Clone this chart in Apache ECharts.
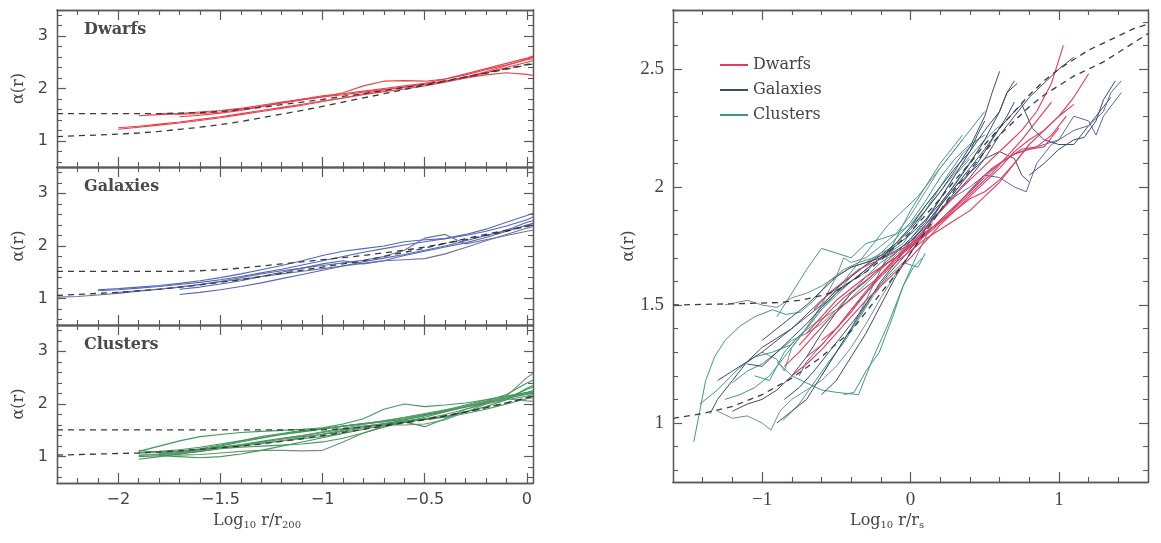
<!DOCTYPE html>
<html><head><meta charset="utf-8">
<script src="https://cdn.jsdelivr.net/npm/echarts@6/dist/echarts.min.js"></script>
<style>html,body{margin:0;padding:0;background:#fff}#c{width:1161px;height:543px}</style>
</head><body><div id="c"></div>
<script>
const _ = null;
// ---------- left panels: shared x grid (log10 r/r200) ----------
const xL = [-2.3,-2.2,-2.1,-2.0,-1.9,-1.8,-1.7,-1.6,-1.5,-1.4,-1.3,-1.2,-1.1,-1.0,-0.9,-0.8,-0.7,-0.6,-0.5,-0.4,-0.3,-0.2,-0.1,0.0,0.03];
const leftMajorX = [-2,-1.5,-1,-0.5,0];
const leftMinorX = [-2.2,-2.1,-1.9,-1.8,-1.7,-1.6,-1.4,-1.3,-1.2,-1.1,-0.9,-0.8,-0.7,-0.6,-0.4,-0.3,-0.2,-0.1];
const leftMajorY = [1,2,3];
const leftMinorY = [0.6,0.8,1.2,1.4,1.6,1.8,2.2,2.4,2.6,2.8,3.2,3.4];

// Dwarfs (left)
const dw1 = [_,_,_,1.25,1.28,1.32,1.36,1.41,1.46,1.52,1.58,1.64,1.70,1.76,1.82,1.88,1.94,1.99,2.05,2.12,2.20,2.30,2.40,2.50,2.53];
const dw2 = [_,_,_,1.22,1.26,1.30,1.34,1.39,1.44,1.50,1.56,1.62,1.68,1.75,1.82,1.90,1.97,2.03,2.08,2.14,2.22,2.32,2.44,2.56,2.60];
const dw3 = [_,_,_,_,_,1.52,1.51,1.52,1.55,1.60,1.66,1.72,1.78,1.84,1.92,2.05,2.14,2.15,2.14,2.18,2.26,2.36,2.45,2.55,2.57];
const dw4 = [_,_,_,_,1.48,1.50,1.52,1.55,1.58,1.62,1.68,1.74,1.79,1.84,1.88,1.93,1.98,2.02,2.08,2.14,2.20,2.26,2.30,2.27,2.25];
const dw5 = [_,_,_,_,_,_,1.46,1.49,1.53,1.58,1.65,1.73,1.80,1.86,1.90,1.95,2.00,2.05,2.10,2.18,2.28,2.38,2.48,2.58,2.62];
const dwFitA = [1.52,1.52,1.52,1.52,1.52,1.52,1.53,1.54,1.56,1.60,1.64,1.69,1.74,1.79,1.85,1.90,1.96,2.02,2.08,2.15,2.22,2.29,2.37,2.45,2.47];
const dwFitB = [1.08,1.10,1.11,1.13,1.15,1.18,1.22,1.26,1.31,1.37,1.44,1.51,1.58,1.66,1.74,1.82,1.90,1.98,2.06,2.14,2.22,2.30,2.38,2.46,2.48];

// Galaxies (left)
const ga1 = [1.03,1.04,1.07,1.10,1.14,1.18,1.22,1.27,1.32,1.37,1.42,1.47,1.52,1.57,1.62,1.67,1.72,1.74,1.76,1.85,1.97,2.10,2.22,2.34,2.37];
const ga2 = [_,_,1.15,1.17,1.20,1.23,1.27,1.31,1.36,1.42,1.49,1.56,1.64,1.72,1.80,1.88,1.95,2.02,2.08,2.14,2.20,2.28,2.38,2.50,2.55];
const ga3 = [_,_,1.17,1.19,1.22,1.25,1.29,1.34,1.40,1.47,1.55,1.63,1.72,1.82,1.90,1.95,2.00,2.08,2.12,2.14,2.22,2.32,2.45,2.58,2.62];
const ga4 = [_,_,_,1.12,1.15,1.18,1.22,1.27,1.33,1.40,1.47,1.53,1.58,1.63,1.68,1.73,1.80,1.92,2.15,2.22,2.04,2.12,2.20,2.28,2.30];
const ga5 = [_,_,_,_,_,_,1.18,1.22,1.28,1.34,1.42,1.50,1.58,1.66,1.72,1.66,1.72,1.82,1.90,1.98,2.06,2.16,2.28,2.40,2.43];
const ga6 = [_,_,_,_,_,_,1.08,1.12,1.17,1.23,1.30,1.38,1.46,1.54,1.62,1.70,1.77,1.84,1.92,2.00,2.10,2.20,2.30,2.45,2.48];
const gaFitA = [1.52,1.52,1.52,1.52,1.52,1.52,1.52,1.53,1.55,1.58,1.62,1.66,1.70,1.74,1.78,1.82,1.87,1.92,1.98,2.05,2.12,2.20,2.28,2.38,2.40];
const gaFitB = [1.06,1.08,1.10,1.12,1.15,1.18,1.22,1.26,1.31,1.36,1.42,1.48,1.54,1.60,1.66,1.72,1.80,1.88,1.96,2.05,2.14,2.22,2.30,2.38,2.40];

// Clusters (left)
const cl1 = [_,_,_,_,1.08,1.10,1.13,1.18,1.24,1.30,1.36,1.42,1.47,1.52,1.58,1.63,1.68,1.74,1.80,1.87,1.95,2.03,2.12,2.22,2.25];
const cl2 = [_,_,_,_,1.12,1.08,1.06,1.10,1.16,1.22,1.28,1.33,1.38,1.42,1.48,1.55,1.62,1.70,1.78,1.86,1.94,2.02,2.10,2.20,2.22];
const cl3 = [_,_,_,_,0.95,1.00,1.05,1.12,1.20,1.28,1.35,1.42,1.48,1.53,1.58,1.62,1.66,1.72,1.80,1.88,1.95,2.05,2.18,2.40,2.45];
const cl4 = [_,_,_,_,1.05,1.04,1.03,1.04,1.07,1.10,1.12,1.12,1.11,1.12,1.28,1.45,1.58,1.65,1.72,1.80,1.90,2.00,2.08,2.15,2.18];
const cl5 = [_,_,_,_,1.10,1.20,1.30,1.38,1.42,1.46,1.48,1.50,1.52,1.55,1.62,1.72,1.90,2.00,1.95,1.98,2.02,2.08,2.15,2.22,2.25];
const cl6 = [_,_,_,_,_,1.05,1.08,1.12,1.16,1.20,1.25,1.30,1.36,1.43,1.50,1.57,1.63,1.68,1.72,1.76,1.85,1.95,2.08,2.30,2.35];
const cl7 = [_,_,_,_,_,1.02,1.00,0.98,1.00,1.05,1.12,1.20,1.28,1.36,1.44,1.52,1.60,1.66,1.70,1.75,1.82,1.90,2.00,2.10,2.12];
const cl8 = [_,_,_,_,1.07,1.09,1.11,1.14,1.18,1.22,1.26,1.30,1.34,1.38,1.45,1.52,1.60,1.60,1.62,1.70,1.85,2.00,2.15,2.50,2.58];
const cl9 = [_,_,_,_,_,_,1.10,1.15,1.22,1.30,1.38,1.44,1.50,1.54,1.58,1.63,1.67,1.70,1.78,1.88,1.98,2.08,2.15,2.20,2.22];
const cl10 = [_,_,_,_,1.00,1.02,1.05,1.10,1.15,1.18,1.20,1.22,1.24,1.28,1.35,1.45,1.56,1.66,1.75,1.85,1.96,2.05,2.12,2.18,2.20];
const cl11 = [_,_,_,_,_,1.06,1.10,1.14,1.18,1.23,1.29,1.35,1.40,1.46,1.52,1.58,1.62,1.66,1.57,1.72,1.90,2.02,2.10,2.28,2.32];
const cl12 = [_,_,_,_,1.02,1.05,1.08,1.12,1.16,1.21,1.27,1.34,1.40,1.47,1.54,1.61,1.68,1.75,1.82,1.89,1.96,2.04,2.10,2.06,2.05];
const clFitA = [1.51,1.51,1.51,1.51,1.51,1.51,1.51,1.51,1.51,1.51,1.51,1.51,1.51,1.51,1.53,1.56,1.60,1.65,1.71,1.78,1.85,1.93,2.02,2.12,2.15];
const clFitB = [1.03,1.04,1.05,1.06,1.07,1.09,1.11,1.14,1.17,1.20,1.24,1.29,1.34,1.40,1.46,1.52,1.58,1.64,1.70,1.77,1.85,1.93,2.02,2.12,2.15];

// ---------- right panel (log10 r/rs) ----------
const rightMajorX = [-1,0,1];
const rightMinorX = [-1.4,-1.2,-0.8,-0.6,-0.4,-0.2,0.2,0.4,0.6,0.8,1.2,1.4];
const rightMajorY = [1,1.5,2,2.5];
const rightMinorY = [0.8,0.9,1.1,1.2,1.3,1.4,1.6,1.7,1.8,1.9,2.1,2.2,2.3,2.4,2.6,2.7];

const rDwarfs = [
 [[-0.85,1.24],[-0.75,1.30],[-0.65,1.37],[-0.55,1.44],[-0.45,1.50],[-0.35,1.55],[-0.25,1.60],[-0.15,1.66],[-0.05,1.72],[0.05,1.79],[0.15,1.86],[0.25,1.93],[0.35,2.00],[0.45,2.06],[0.55,2.12],[0.65,2.18],[0.75,2.24],[0.85,2.32],[0.95,2.44],[1.03,2.60]],
 [[-0.8,1.20],[-0.7,1.25],[-0.6,1.31],[-0.5,1.38],[-0.4,1.45],[-0.3,1.52],[-0.2,1.58],[-0.1,1.64],[0.0,1.70],[0.1,1.77],[0.2,1.84],[0.3,1.90],[0.4,1.96],[0.5,2.02],[0.6,2.08],[0.7,2.15],[0.8,2.20],[0.9,2.24],[1.0,2.30],[1.1,2.38],[1.2,2.48]],
 [[-0.75,1.33],[-0.65,1.40],[-0.55,1.47],[-0.45,1.53],[-0.35,1.58],[-0.25,1.63],[-0.15,1.68],[-0.05,1.72],[0.05,1.77],[0.15,1.82],[0.25,1.88],[0.35,1.95],[0.45,2.02],[0.55,2.08],[0.65,2.12],[0.75,2.16],[0.85,2.17],[0.95,2.22],[1.05,2.30]],
 [[-0.7,1.38],[-0.6,1.45],[-0.5,1.52],[-0.4,1.57],[-0.3,1.62],[-0.2,1.66],[-0.1,1.70],[0.0,1.75],[0.1,1.80],[0.2,1.86],[0.3,1.92],[0.4,1.98],[0.5,2.05],[0.6,2.10],[0.7,2.14],[0.8,2.16],[0.9,2.17],[1.0,2.25]],
 [[-0.65,1.48],[-0.55,1.55],[-0.45,1.60],[-0.35,1.65],[-0.25,1.68],[-0.15,1.71],[-0.05,1.74],[0.05,1.78],[0.15,1.83],[0.25,1.88],[0.35,1.94],[0.45,2.00],[0.55,2.06],[0.65,2.13],[0.75,2.20],[0.85,2.28],[0.95,2.36]],
 [[-0.6,1.35],[-0.5,1.40],[-0.4,1.48],[-0.3,1.55],[-0.2,1.62],[-0.1,1.68],[0.0,1.73],[0.1,1.78],[0.2,1.82],[0.3,1.86],[0.4,1.90],[0.5,1.96],[0.6,2.02],[0.7,2.10],[0.8,2.18]],
 [[-0.7,1.28],[-0.6,1.33],[-0.5,1.40],[-0.4,1.47],[-0.3,1.55],[-0.2,1.63],[-0.1,1.70],[0.0,1.76],[0.1,1.81],[0.2,1.85],[0.3,1.90],[0.4,1.95],[0.5,1.98],[0.6,2.03],[0.7,2.10],[0.8,2.18],[0.9,2.24],[1.0,2.30],[1.1,2.35]]
];
const rGalaxies = [
 [[-1.3,1.18],[-1.2,1.22],[-1.1,1.26],[-1.0,1.30],[-0.9,1.35],[-0.8,1.40],[-0.7,1.46],[-0.6,1.52],[-0.5,1.57],[-0.4,1.62],[-0.3,1.67],[-0.2,1.71],[-0.1,1.76],[0.0,1.82],[0.1,1.90],[0.2,1.98],[0.3,2.07],[0.4,2.17],[0.5,2.30],[0.55,2.40],[0.6,2.49]],
 [[-1.1,1.25],[-1.0,1.24],[-0.9,1.30],[-0.8,1.36],[-0.7,1.42],[-0.6,1.49],[-0.5,1.55],[-0.4,1.60],[-0.3,1.65],[-0.2,1.70],[-0.1,1.76],[0.0,1.83],[0.1,1.92],[0.2,2.00],[0.3,2.08],[0.4,2.15],[0.5,2.24],[0.6,2.32],[0.65,2.40],[0.72,2.44]],
 [[-0.9,1.00],[-0.8,1.05],[-0.7,1.10],[-0.6,1.20],[-0.5,1.30],[-0.4,1.40],[-0.3,1.50],[-0.2,1.60],[-0.1,1.68],[0.0,1.76],[0.1,1.84],[0.2,1.92],[0.3,2.00],[0.4,2.08],[0.5,2.16],[0.6,2.25],[0.7,2.32],[0.75,2.35],[0.82,2.25],[0.9,2.20],[1.0,2.18],[1.1,2.18],[1.2,2.26],[1.3,2.34],[1.35,2.38]],
 [[-0.75,1.20],[-0.7,1.26],[-0.6,1.33],[-0.5,1.40],[-0.4,1.48],[-0.3,1.56],[-0.2,1.63],[-0.1,1.70],[0.0,1.77],[0.1,1.84],[0.2,1.90],[0.3,1.96],[0.4,2.00],[0.5,2.05],[0.6,2.04],[0.7,2.00],[0.78,1.98],[0.85,2.10],[0.95,2.18],[1.0,2.20],[1.1,2.30],[1.2,2.28],[1.25,2.22],[1.3,2.30],[1.42,2.40]],
 [[-1.35,1.04],[-1.3,1.10],[-1.2,1.18],[-1.1,1.26],[-1.0,1.32],[-0.9,1.36],[-0.8,1.40],[-0.7,1.45],[-0.6,1.50],[-0.5,1.56],[-0.4,1.60],[-0.3,1.65],[-0.2,1.70],[-0.1,1.75],[0.0,1.80],[0.1,1.86],[0.2,1.93],[0.3,2.01],[0.4,2.10],[0.5,2.20],[0.6,2.32],[0.65,2.40],[0.7,2.45]],
 [[-1.2,1.05],[-1.1,1.08],[-1.0,1.10],[-0.9,1.14],[-0.8,1.20],[-0.7,1.28],[-0.6,1.38],[-0.5,1.47],[-0.4,1.55],[-0.3,1.60],[-0.2,1.66],[-0.1,1.72],[0.0,1.78],[0.1,1.85],[0.2,1.95],[0.3,2.05],[0.4,2.15],[0.45,2.22],[0.5,2.28]],
 [[-0.6,1.12],[-0.5,1.18],[-0.4,1.28],[-0.3,1.38],[-0.2,1.50],[-0.1,1.62],[0.0,1.72],[0.1,1.82],[0.2,1.92],[0.3,2.00],[0.4,2.06],[0.5,2.12],[0.6,2.15],[0.7,2.12],[0.75,2.05],[0.8,2.02]],
 [[0.0,1.74],[0.1,1.80],[0.2,1.86],[0.3,1.92],[0.4,1.98],[0.5,2.04],[0.6,2.10],[0.7,2.14],[0.8,2.16],[0.9,2.18],[1.0,2.20],[1.1,2.24],[1.2,2.26],[1.3,2.32],[1.35,2.40],[1.42,2.45]],
 [[-0.85,1.10],[-0.75,1.15],[-0.65,1.22],[-0.55,1.30],[-0.45,1.38],[-0.35,1.46],[-0.25,1.55],[-0.15,1.63],[-0.05,1.70],[0.05,1.78],[0.15,1.86],[0.25,1.94],[0.35,2.02],[0.45,2.10],[0.55,2.20],[0.65,2.30],[0.7,2.36]],
 [[-1.0,1.35],[-0.9,1.40],[-0.8,1.45],[-0.7,1.50],[-0.6,1.56],[-0.5,1.62],[-0.4,1.66],[-0.3,1.68],[-0.2,1.70],[-0.1,1.73],[0.0,1.77],[0.1,1.83],[0.2,1.90],[0.3,1.97],[0.4,2.04],[0.5,2.12],[0.6,2.22],[0.7,2.30],[0.8,2.38],[0.9,2.44],[1.0,2.50],[1.1,2.55]],
 [[0.8,2.05],[0.9,2.10],[1.0,2.16],[1.1,2.20],[1.17,2.21],[1.25,2.28],[1.3,2.37],[1.38,2.45]]
];
const rClusters = [
 [[-1.46,0.92],[-1.42,1.05],[-1.38,1.18],[-1.32,1.28],[-1.25,1.35],[-1.15,1.41],[-1.05,1.45],[-0.93,1.48],[-0.84,1.46],[-0.74,1.47],[-0.65,1.52],[-0.55,1.60],[-0.45,1.65],[-0.35,1.68],[-0.25,1.70],[-0.15,1.72],[-0.05,1.76],[0.05,1.85],[0.15,1.95],[0.25,2.05],[0.35,2.14],[0.45,2.20]],
 [[-1.42,1.08],[-1.3,1.14],[-1.16,1.23],[-1.05,1.28],[-0.93,1.30],[-0.81,1.33],[-0.7,1.40],[-0.6,1.48],[-0.5,1.55],[-0.4,1.62],[-0.3,1.67],[-0.2,1.72],[-0.1,1.78],[0.0,1.85],[0.1,1.94],[0.2,2.04],[0.3,2.12],[0.4,2.18],[0.5,2.22]],
 [[-1.3,1.05],[-1.2,1.02],[-1.1,1.03],[-1.0,1.00],[-0.94,0.97],[-0.88,1.05],[-0.8,1.10],[-0.7,1.14],[-0.6,1.18],[-0.5,1.24],[-0.4,1.32],[-0.3,1.42],[-0.2,1.53],[-0.1,1.63],[0.0,1.72],[0.1,1.80]],
 [[-0.9,1.26],[-0.8,1.20],[-0.7,1.17],[-0.6,1.14],[-0.5,1.13],[-0.35,1.12],[-0.25,1.28],[-0.15,1.42],[-0.05,1.58],[0.05,1.72],[0.15,1.85]],
 [[-1.25,1.10],[-1.15,1.12],[-1.05,1.15],[-0.95,1.20],[-0.85,1.28],[-0.75,1.36],[-0.65,1.45],[-0.55,1.53],[-0.45,1.60],[-0.35,1.68],[-0.25,1.76],[-0.15,1.84],[-0.05,1.90],[0.05,1.96],[0.15,2.04],[0.25,2.12],[0.35,2.20],[0.45,2.28],[0.5,2.32]],
 [[-1.0,1.30],[-0.9,1.27],[-0.85,1.22],[-0.8,1.32],[-0.7,1.40],[-0.6,1.50],[-0.5,1.62],[-0.45,1.70],[-0.4,1.68],[-0.3,1.70],[-0.2,1.75],[-0.1,1.80],[0.0,1.88],[0.1,1.98],[0.2,2.08],[0.3,2.16],[0.35,2.20]],
 [[-0.9,1.45],[-0.8,1.55],[-0.7,1.65],[-0.6,1.74],[-0.5,1.72],[-0.4,1.70],[-0.3,1.76],[-0.2,1.78],[-0.1,1.80],[0.0,1.84],[0.1,1.92],[0.2,2.00]],
 [[-0.6,1.20],[-0.5,1.30],[-0.4,1.40],[-0.3,1.52],[-0.2,1.65],[-0.1,1.78],[0.0,1.90],[0.1,2.00],[0.2,2.10],[0.3,2.18],[0.35,2.22]],
 [[-1.25,1.50],[-1.1,1.52],[-1.0,1.50],[-0.9,1.49],[-0.8,1.53],[-0.7,1.55],[-0.6,1.58],[-0.5,1.62],[-0.4,1.66],[-0.3,1.68],[-0.2,1.72],[-0.1,1.75]],
 [[-1.2,1.17],[-1.1,1.22],[-1.0,1.25],[-0.9,1.30],[-0.8,1.35],[-0.7,1.38],[-0.6,1.42],[-0.5,1.48],[-0.4,1.55],[-0.3,1.62],[-0.2,1.68],[-0.1,1.72],[0.0,1.78],[0.1,1.86],[0.2,1.95],[0.3,2.05],[0.4,2.12]],
 [[-1.05,1.20],[-0.95,1.18],[-0.85,1.30],[-0.75,1.37],[-0.65,1.42],[-0.55,1.46],[-0.45,1.50],[-0.35,1.56],[-0.25,1.62],[-0.15,1.68],[-0.05,1.74],[0.05,1.80],[0.15,1.88],[0.25,1.97],[0.35,2.06],[0.45,2.15],[0.5,2.20]],
 [[-0.8,1.32],[-0.7,1.40],[-0.6,1.48],[-0.5,1.54],[-0.4,1.60],[-0.3,1.64],[-0.2,1.70],[-0.1,1.76],[0.0,1.83],[0.1,1.90],[0.2,1.98],[0.3,2.06],[0.4,2.13],[0.5,2.20],[0.6,2.26]],
 [[-0.86,1.01],[-0.75,1.08],[-0.64,1.18],[-0.55,1.26],[-0.45,1.34],[-0.35,1.44],[-0.25,1.54],[-0.15,1.62],[-0.05,1.68],[0.05,1.66],[0.1,1.72]],
 [[-0.45,1.12],[-0.38,1.13],[-0.3,1.22],[-0.21,1.30],[-0.12,1.45],[-0.05,1.58],[0.02,1.66],[0.08,1.70]]
];
const rFitA = [[-1.6,1.50],[-1.2,1.505],[-0.9,1.51],[-0.74,1.52],[-0.6,1.54],[-0.5,1.56],[-0.4,1.60],[-0.3,1.64],[-0.2,1.69],[-0.1,1.75],[0.0,1.81],[0.1,1.88],[0.2,1.95],[0.3,2.03],[0.4,2.10],[0.5,2.18],[0.6,2.25],[0.7,2.32],[0.8,2.39],[0.9,2.45],[1.0,2.50],[1.1,2.54],[1.2,2.58],[1.3,2.61],[1.4,2.64],[1.5,2.67],[1.6,2.69]];
const rFitB = [[-1.6,1.02],[-1.4,1.04],[-1.2,1.07],[-1.0,1.12],[-0.8,1.19],[-0.6,1.28],[-0.4,1.39],[-0.2,1.55],[-0.1,1.63],[0.0,1.72],[0.1,1.81],[0.2,1.90],[0.3,1.99],[0.4,2.07],[0.5,2.15],[0.6,2.22],[0.7,2.28],[0.8,2.34],[0.9,2.39],[1.0,2.43],[1.1,2.47],[1.2,2.50],[1.3,2.53],[1.4,2.57],[1.5,2.61],[1.6,2.65]];

const panelNames = ['Dwarfs','Galaxies','Clusters'];

// ---------- build ----------
const AX = '#5a5a5a';
const pairs = (xs, ys) => xs.map((x,i)=>[x, ys[i]]).filter(p=>p[1]!==null);
const minus = v => String(v).replace('-', '\u2212');

const grids = [
  {left:57, top:10, width:476, height:157},
  {left:57, top:167, width:476, height:158},
  {left:57, top:325, width:476, height:158},
  {left:673, top:10, width:475, height:472}
];
const xAxes = [], yAxes = [];
const mainX = [], mainY = [];
function addFrame(gi, xr, yr, xMaj, xMin, yMaj, yMin, xLab, yName, labFont, labSize, yNameGap, majLen, minLen) {
  const line = {show:true, onZero:false, lineStyle:{color:AX, width:1.3}};
  const bx = {gridIndex:gi, type:'value', min:xr[0], max:xr[1], splitLine:{show:false}, axisLine:line};
  const by = {gridIndex:gi, type:'value', min:yr[0], max:yr[1], splitLine:{show:false}, axisLine:line};
  const lab = (show, vals) => ({show, customValues:vals, color:'#444', fontFamily:labFont, fontSize:labSize, margin:9, formatter:minus});
  mainX[gi] = xAxes.length;
  xAxes.push({...bx, position:'bottom', axisTick:{inside:true, length:majLen, customValues:xMaj, lineStyle:{color:AX, width:1.2}}, axisLabel:lab(xLab, xMaj)});
  xAxes.push({...bx, position:'bottom', axisTick:{inside:true, length:minLen, customValues:xMin, lineStyle:{color:AX, width:1.1}}, axisLabel:{show:false}});
  xAxes.push({...bx, position:'top', axisTick:{inside:true, length:majLen, customValues:xMaj, lineStyle:{color:AX, width:1.2}}, axisLabel:{show:false}});
  xAxes.push({...bx, position:'top', axisTick:{inside:true, length:minLen, customValues:xMin, lineStyle:{color:AX, width:1.1}}, axisLabel:{show:false}});
  mainY[gi] = yAxes.length;
  yAxes.push({...by, position:'left', axisTick:{inside:true, length:majLen-1, customValues:yMaj, lineStyle:{color:AX, width:1.2}}, axisLabel:lab(true, yMaj),
    name:yName, nameLocation:'middle', nameRotate:90, nameGap:yNameGap, nameTextStyle:{fontFamily:'DejaVu Serif', fontSize:16, color:'#444'}});
  yAxes.push({...by, position:'left', axisTick:{inside:true, length:minLen, customValues:yMin, lineStyle:{color:AX, width:1.1}}, axisLabel:{show:false}});
  yAxes.push({...by, position:'right', axisTick:{inside:true, length:majLen-1, customValues:yMaj, lineStyle:{color:AX, width:1.2}}, axisLabel:{show:false}});
  yAxes.push({...by, position:'right', axisTick:{inside:true, length:minLen, customValues:yMin, lineStyle:{color:AX, width:1.1}}, axisLabel:{show:false}});
}
for (let g = 0; g < 3; g++) {
  addFrame(g, [-2.3, 0.03], [0.5, 3.5], leftMajorX, leftMinorX, leftMajorY, leftMinorY, g === 2, '\u03b1(r)', 'DejaVu Sans', 16, 30, 10, 5);
}
addFrame(3, [-1.6, 1.6], [0.75, 2.75], rightMajorX, rightMinorX, rightMajorY, rightMinorY, true, '\u03b1(r)', 'Liberation Serif', 19, 36, 10, 5);

const series = [];
function addLine(gi, name, data, color, width, dashed) {
  series.push({type:'line', name, xAxisIndex:mainX[gi], yAxisIndex:mainY[gi], data, showSymbol:false, symbol:'none',
    silent:true, clip:true, animation:false,
    itemStyle:{color}, lineStyle:{color, width, type: dashed ? [6,5] : 'solid'}});
}
const leftSets = [
  {lines:[dw1,dw2,dw3,dw4,dw5], color:'#e8424c', fits:[dwFitA, dwFitB]},
  {lines:[ga1,ga2,ga3,ga4,ga5,ga6], color:'#5367bd', fits:[gaFitA, gaFitB]},
  {lines:[cl1,cl2,cl3,cl4,cl5,cl6,cl7,cl8,cl9,cl10,cl11,cl12], color:'#3f9b58', fits:[clFitA, clFitB]}
];
leftSets.forEach((s, g) => {
  s.lines.forEach((ys, i) => addLine(g, panelNames[g] + ' r200', pairs(xL, ys), (g===1 && i%3===0) ? '#6a74a0' : (g===2 && i%4===3 ? '#6f8f78' : s.color), 1.1, false));
  s.fits.forEach(ys => addLine(g, 'fit', pairs(xL, ys), '#3a3a3a', 1.3, true));
});
rClusters.forEach((d, i) => addLine(3, 'Clusters', d, i % 3 === 2 ? '#6f9488' : '#3f9a84', 1.0, false));
rGalaxies.forEach((d, i) => addLine(3, 'Galaxies', d, i % 4 === 3 ? '#5866a6' : '#3b4a72', 1.0, false));
rDwarfs.forEach(d => addLine(3, 'Dwarfs', d, '#e23c5e', 1.1, false));
addLine(3, 'fit', rFitA, '#3a3a4a', 1.3, true);
addLine(3, 'fit', rFitB, '#3a3a4a', 1.3, true);

const titles = panelNames.map((t, g) => ({text:t, left:79, top:grids[g].top + 7,
  textStyle:{fontFamily:'DejaVu Serif', fontSize:16, fontWeight:'bold', color:'#4a4a4a'}}));

const subRich = {s:{fontSize:10, fontFamily:'DejaVu Serif', fill:'#444', verticalAlign:'bottom', padding:[9,0,0,0]}};
const option = {
  animation:false,
  grid: grids,
  xAxis: xAxes,
  yAxis: yAxes,
  title: titles,
  legend: {data:['Dwarfs','Galaxies','Clusters'], orient:'vertical', left:715, top:52, itemWidth:28, itemHeight:2, itemGap:9,
    icon:'rect', selectedMode:false, textStyle:{fontFamily:'DejaVu Serif', fontSize:16, color:'#444'}},
  graphic: [
    {type:'text', left:213, top:513, style:{text:'Log{s|10} r/r{s|200}', fontFamily:'DejaVu Serif', fontSize:16, fill:'#444', rich:subRich}},
    {type:'text', left:850, top:513, style:{text:'Log{s|10} r/r{s|s}', fontFamily:'DejaVu Serif', fontSize:16, fill:'#444', rich:subRich}}
  ],
  series
};
const chart = echarts.init(document.getElementById('c'), null, {renderer:'canvas'});
chart.setOption(option);
</script>
</body></html>
